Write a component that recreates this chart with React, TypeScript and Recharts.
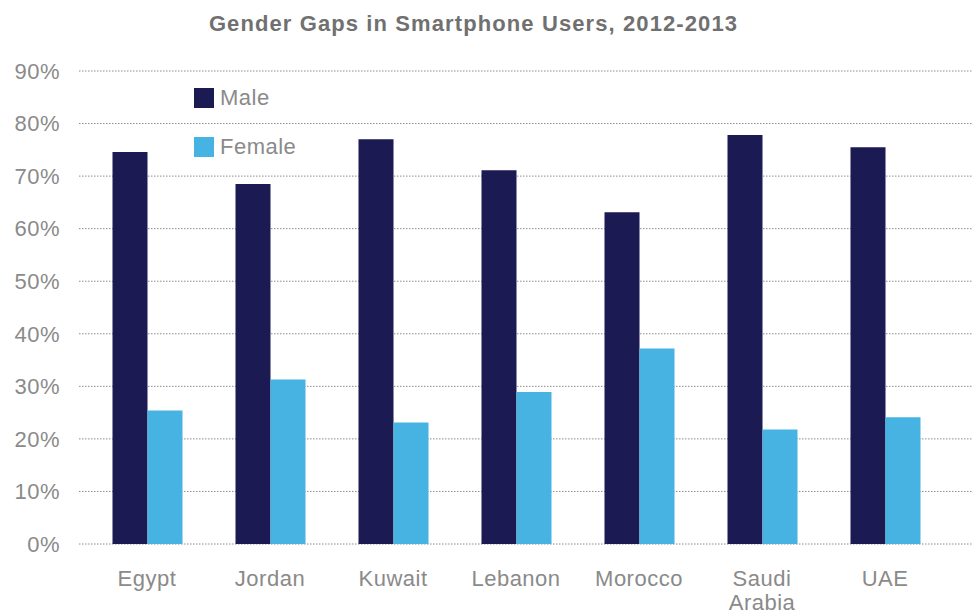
import React from "react";
import { BarChart, Bar, XAxis, YAxis, CartesianGrid, Legend } from "recharts";

const categories = ["Egypt", "Jordan", "Kuwait", "Lebanon", "Morocco", "Saudi Arabia", "UAE"];
const maleValues = [74.6, 68.5, 77.0, 71.1, 63.1, 77.8, 75.5];
const femaleValues = [25.4, 31.3, 23.1, 28.9, 37.2, 21.8, 24.1];
const yTicks = [0, 10, 20, 30, 40, 50, 60, 70, 80, 90];
const seriesNames = ["Male", "Female"];
const colors = ["#1c1a52", "#47b3e3"];
const title = "Gender Gaps in Smartphone Users, 2012-2013";

const data = categories.map((c, i) => ({ name: c, Male: maleValues[i], Female: femaleValues[i] }));

const FONT = "'Liberation Sans', Arial, sans-serif";
const TEXT_GRAY = "#8a8a8a";

const XTick = (props: any) => {
  const { x, y, payload } = props;
  const words = String(payload.value).split(" ");
  return (
    <text x={x} y={y + 42} textAnchor="middle" fill={TEXT_GRAY} fontSize={22} letterSpacing={0.5} fontFamily={FONT}>
      {words.map((w, i) => (
        <tspan key={i} x={x} dy={i === 0 ? 0 : 24}>
          {w}
        </tspan>
      ))}
    </text>
  );
};

const LegendContent = () => (
  <div style={{ fontFamily: FONT }}>
    {seriesNames.map((n, i) => (
      <div key={n} style={{ display: "flex", alignItems: "center", height: 20, marginBottom: i === 0 ? 29 : 0 }}>
        <div style={{ width: 20, height: 20, background: colors[i] }} />
        <span style={{ marginLeft: 6, fontSize: 22, letterSpacing: 0.5, color: TEXT_GRAY, lineHeight: "20px" }}>{n}</span>
      </div>
    ))}
  </div>
);

export default function App() {
  return (
    <div style={{ position: "absolute", left: 0, top: 0, width: 980, height: 614, background: "#fff" }}>
      <BarChart
        width={980}
        height={614}
        data={data}
        margin={{ top: 71, right: 7, left: 0, bottom: 40 }}
        barGap={0}
      >
        <text x={473.5} y={31} textAnchor="middle" fontSize={22} letterSpacing={1.1} fontWeight="bold" fill="#707070" fontFamily={FONT}>
          {title}
        </text>
        <CartesianGrid vertical={false} stroke="#8c8c8c" strokeDasharray="1.5 1.5" />
        <XAxis
          dataKey="name"
          height={30}
          axisLine={false}
          tickLine={false}
          tickSize={0}
          tickMargin={0}
          interval={0}
          padding={{ left: 6.5, right: 26.5 }}
          tick={<XTick />}
        />
        <YAxis
          width={79}
          domain={[0, 90]}
          ticks={yTicks}
          axisLine={false}
          tickLine={false}
          tickSize={0}
          tickMargin={19}
          tickFormatter={(v: number) => `${v}%`}
          tick={{ fill: TEXT_GRAY, fontSize: 22, letterSpacing: 0.5, fontFamily: FONT }}
        />
        <Legend
          layout="horizontal"
          verticalAlign="middle"
          align="center"
          content={<LegendContent />}
          wrapperStyle={{ left: 194, top: 88, width: 150 }}
        />
        <Bar dataKey="Male" fill={colors[0]} barSize={35} isAnimationActive={false} />
        <Bar dataKey="Female" fill={colors[1]} barSize={35} isAnimationActive={false} />
      </BarChart>
    </div>
  );
}
